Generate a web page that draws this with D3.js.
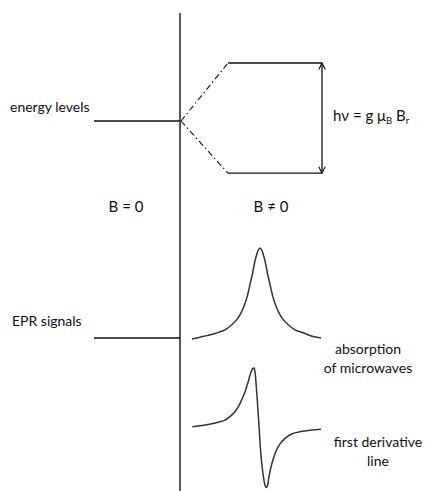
<!DOCTYPE html>
<html><head><meta charset="utf-8">
<script src="https://cdn.jsdelivr.net/npm/d3@7"></script>
<style>body{margin:0;background:#fff}svg{display:block}text{font-family:Lato,"Open Sans",sans-serif;fill:#111}</style>
</head><body>
<script>
// Energy levels (arbitrary units): zero-field level and Zeeman-split levels
const zeroFieldEnergy = [0];
const splitEnergies = [1.0, -0.9];
// Absorption line (field offset from resonance, normalized intensity)
const absField = [-68,-60,-52,-45,-40,-35,-28,-22,-18,-15,-12.5,-10,-7.5,-5,-3.5,-2,0,2,3.5,5,7.5,10,12.5,15,18,22,28,35,40,45,52,61];
const absIntensity = [0.00,0.02,0.04,0.06,0.08,0.10,0.16,0.23,0.31,0.39,0.48,0.60,0.72,0.86,0.92,0.97,1.0,0.97,0.92,0.86,0.72,0.60,0.48,0.39,0.31,0.23,0.16,0.10,0.08,0.06,0.03,0.01];
// First derivative line
const derField = [-67.7,-58,-48.3,-41,-35,-30,-25,-21.5,-18.3,-15.5,-13.3,-11.5,-10,-8.5,-7.3,-6,-5,-3.3,-1,1,3.3,5,6,7.3,8.3,9.5,11,13,15,18,21.7,26,31.7,38,45,52,61];
const derSignal = [0.02,0.04,0.07,0.10,0.13,0.19,0.27,0.36,0.47,0.58,0.69,0.79,0.88,0.95,0.99,1.0,0.93,0.60,0.04,-0.46,-0.80,-0.95,-0.99,-0.97,-0.88,-0.77,-0.65,-0.53,-0.43,-0.32,-0.23,-0.16,-0.10,-0.07,-0.05,-0.035,-0.02];
// Labels
const leftLabels = ["energy levels","EPR signals"];
const conditionLabels = ["B = 0","B \u2260 0"];
const absLabel = ["absorption","of microwaves"];
const derLabel = ["first derivative","line"];

const W = 427, H = 491;
const svg = d3.select("body").append("svg").attr("width",W).attr("height",H);

const axisX = 180;
const yE = d3.scaleLinear().domain([0,1]).range([121,63]);
const xB = d3.scaleLinear().domain([-68,61]).range([192,321]);
const yAbs = d3.scaleLinear().domain([0,1]).range([339,248]);
const yDer = d3.scaleLinear().domain([-1,1]).range([488,368]);

const defs = svg.append("defs");
defs.append("marker").attr("id","ah").attr("viewBox","0 0 10 10").attr("refX",9).attr("refY",5)
  .attr("markerWidth",8).attr("markerHeight",8).attr("orient","auto-start-reverse").attr("markerUnits","userSpaceOnUse")
  .append("path").attr("d","M1,1 L9,5 L1,9").attr("fill","none").attr("stroke","#111").attr("stroke-width",1.4);

svg.append("line").attr("x1",axisX).attr("x2",axisX).attr("y1",13).attr("y2",H)
  .attr("stroke","#222").attr("stroke-width",1.5);

svg.selectAll(".zf").data(zeroFieldEnergy).join("line")
  .attr("x1",94).attr("x2",axisX).attr("y1",d=>yE(d)).attr("y2",d=>yE(d))
  .attr("stroke","#111").attr("stroke-width",1.3);

svg.selectAll(".dd").data(splitEnergies).join("line")
  .attr("x1",axisX+1).attr("y1",yE(zeroFieldEnergy[0])).attr("x2",228).attr("y2",d=>yE(d))
  .attr("stroke","#111").attr("stroke-width",1.1).attr("stroke-dasharray","6,3,1.5,3");

svg.selectAll(".sl").data(splitEnergies).join("line")
  .attr("x1",228).attr("x2",322).attr("y1",d=>yE(d)).attr("y2",d=>yE(d))
  .attr("stroke","#111").attr("stroke-width",1.3);

svg.append("line").attr("x1",322).attr("x2",322)
  .attr("y1",yE(d3.max(splitEnergies))).attr("y2",yE(d3.min(splitEnergies)))
  .attr("stroke","#111").attr("stroke-width",1.3)
  .attr("marker-start","url(#ah)").attr("marker-end","url(#ah)");

const eq = svg.append("text").attr("x",333).attr("y",121).attr("font-size",15);
eq.append("tspan").text("h\u03bd = g \u03bc");
eq.append("tspan").attr("font-size",9.5).attr("dy",3).text("B");
eq.append("tspan").attr("dy",-3).text(" B");
eq.append("tspan").attr("font-size",9.5).attr("dy",3).text("r");

svg.append("line").attr("x1",94).attr("x2",axisX).attr("y1",yAbs(0)-1).attr("y2",yAbs(0)-1)
  .attr("stroke","#111").attr("stroke-width",1.3);

svg.selectAll(".ll").data(leftLabels).join("text")
  .attr("x",(d,i)=>i?12:10).attr("y",(d,i)=>i?326:112).attr("font-size",14).text(d=>d);

svg.selectAll(".bl").data(conditionLabels).join("text")
  .attr("x",(d,i)=>i?271:126).attr("y",212).attr("text-anchor","middle").attr("font-size",15).text(d=>d);

const line = d3.line().curve(d3.curveCatmullRom.alpha(0.5));
svg.append("path").attr("d",line(absField.map((f,i)=>[xB(f),yAbs(absIntensity[i])])))
  .attr("fill","none").attr("stroke","#333").attr("stroke-width",1.5);
svg.append("path").attr("d",line(derField.map((f,i)=>[xB(f),yDer(derSignal[i])])))
  .attr("fill","none").attr("stroke","#333").attr("stroke-width",1.5);

svg.selectAll(".al").data(absLabel).join("text")
  .attr("x",368).attr("y",(d,i)=>354+i*19).attr("text-anchor","middle").attr("font-size",14).text(d=>d);
svg.selectAll(".dl").data(derLabel).join("text")
  .attr("x",378).attr("y",(d,i)=>447+i*19).attr("text-anchor","middle").attr("font-size",14).text(d=>d);
</script>
</body></html>
